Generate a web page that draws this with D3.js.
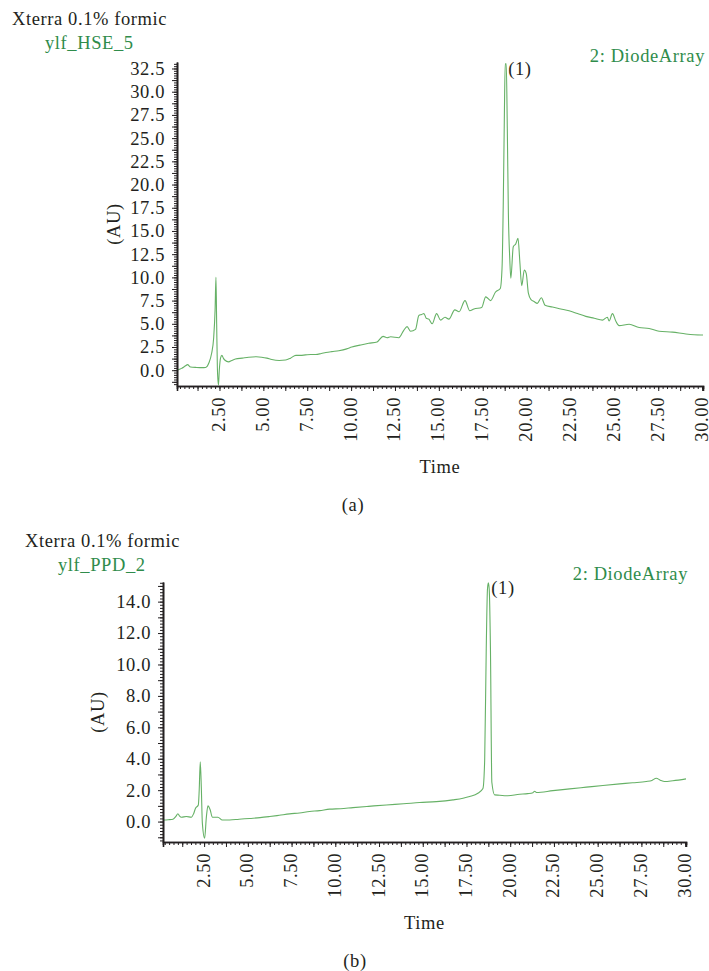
<!DOCTYPE html>
<html>
<head>
<meta charset="utf-8">
<script src="https://cdn.jsdelivr.net/npm/d3@7"></script>
<style>
  html, body { margin: 0; padding: 0; background: #fff; }
  svg { display: block; }
  text { font-family: "Liberation Serif", "DejaVu Serif", serif; letter-spacing: 0.6px; }
</style>
</head>
<body>
<svg id="chart" width="709" height="971"></svg>
<script>
// ---- Panel (a): ylf_HSE_5 chromatogram ----
const timeA = [0.08,0.34,0.55,0.68,0.85,1.20,1.50,1.71,1.90,2.05,2.17,2.25,2.30,2.34,2.38,2.44,2.49,2.56,2.64,2.72,2.80,3.02,3.20,3.41,3.80,4.16,4.60,4.90,5.20,5.48,5.90,6.27,6.55,6.85,7.10,7.40,7.70,7.99,8.30,8.56,8.90,9.30,9.75,10.04,10.50,11.00,11.48,11.82,12.05,12.25,12.72,13.00,13.19,13.39,13.67,13.86,14.01,14.15,14.28,14.43,14.62,14.87,15.10,15.35,15.57,15.91,16.15,16.49,16.76,17.00,17.44,17.67,17.95,18.22,18.50,18.60,18.67,18.73,18.78,18.84,18.90,18.96,19.04,19.10,19.24,19.38,19.51,19.61,19.72,19.87,19.98,20.10,20.25,20.42,20.61,20.84,21.05,21.47,21.95,22.42,22.90,23.37,23.85,24.32,24.60,24.70,24.89,25.08,25.27,25.84,26.41,26.98,27.55,28.31,29.08,29.93,30.05];
const auA = [0.0,0.2,0.45,0.6,0.35,0.3,0.28,0.3,0.8,1.8,3.5,6.5,10.0,5.0,0.3,-1.6,0.0,1.3,1.6,1.3,1.1,0.9,1.05,1.2,1.3,1.4,1.45,1.4,1.3,1.15,1.05,1.1,1.3,1.6,1.6,1.65,1.7,1.7,1.8,1.9,2.0,2.1,2.3,2.5,2.7,2.9,3.05,3.65,3.5,3.6,3.5,4.3,4.7,4.2,4.4,5.9,6.0,6.1,5.6,5.5,5.0,6.1,5.4,5.7,5.5,6.5,6.3,7.5,6.4,6.6,6.75,7.9,7.5,8.4,8.8,11.0,18.0,27.0,33.0,33.0,26.0,17.0,12.0,9.9,13.3,13.6,14.2,11.8,9.1,10.8,10.4,8.3,7.6,7.4,7.2,7.8,7.0,6.8,6.6,6.4,6.1,5.8,5.6,5.4,5.7,5.3,6.1,5.3,4.8,4.95,4.6,4.5,4.2,4.1,3.9,3.8,3.8];

// ---- Panel (b): ylf_PPD_2 chromatogram ----
const timeB = [0.15,0.45,0.72,0.90,1.00,1.10,1.20,1.48,1.77,1.90,2.01,2.17,2.22,2.28,2.34,2.40,2.53,2.63,2.72,2.85,2.97,3.29,3.54,3.96,4.50,5.10,5.70,6.25,6.80,7.39,7.95,8.53,9.10,9.68,10.30,11.01,11.90,12.92,13.90,14.82,15.78,16.73,17.30,17.68,18.15,18.44,18.54,18.63,18.70,18.75,18.80,18.87,18.95,19.11,19.40,19.78,20.54,21.00,21.30,21.40,21.50,22.44,23.40,24.35,25.30,26.26,27.00,27.78,28.10,28.35,28.60,28.83,29.30,30.05];
const auB = [0.1,0.12,0.15,0.35,0.5,0.35,0.28,0.32,0.28,0.5,0.85,1.06,2.0,3.8,2.2,-0.1,-1.06,0.3,1.0,0.74,0.28,0.28,0.1,0.1,0.15,0.2,0.25,0.32,0.4,0.49,0.55,0.64,0.7,0.79,0.82,0.89,0.97,1.06,1.13,1.21,1.27,1.38,1.48,1.59,1.8,2.1,3.9,11.0,14.8,15.2,14.8,11.0,2.5,1.7,1.68,1.64,1.74,1.78,1.84,1.93,1.85,1.97,2.08,2.19,2.3,2.4,2.47,2.55,2.62,2.76,2.62,2.55,2.6,2.72];

// ---- Tick labels ----
const timeTicks = [2.5,5,7.5,10,12.5,15,17.5,20,22.5,25,27.5,30];
const auTicksA = [0,2.5,5,7.5,10,12.5,15,17.5,20,22.5,25,27.5,30,32.5];
const auTicksB = [0,2,4,6,8,10,12,14];

const INK = "#231f20";
const GREEN_TEXT = "#2f8c4b";
const TRACE = "#66b166";
const FS = 18.5;

const svg = d3.select("#chart");

function steps(lo, hi, step) {
  const out = [];
  const start = Math.ceil(lo / step - 1e-9);
  const end = Math.floor(hi / step + 1e-9);
  for (let i = start; i <= end; i++) out.push(+(i * step).toFixed(4));
  return out;
}

function drawPanel(p) {
  const g = svg.append("g");
  const x = d3.scaleLinear().domain(p.xDomain).range(p.xRange);
  const y = d3.scaleLinear().domain(p.yDomain).range(p.yRange);
  const axisY = p.yRange[0];
  const axisX = p.xRange[0];

  // headers
  g.append("text").attr("x", p.titleX).attr("y", p.titleY)
    .attr("font-size", FS).attr("fill", INK).text("Xterra 0.1% formic");
  g.append("text").attr("x", p.sampleX).attr("y", p.titleY + 24)
    .attr("font-size", FS).attr("fill", GREEN_TEXT).text(p.sample);
  g.append("text").attr("x", p.xRange[1] + p.detectorDx).attr("y", p.detectorY)
    .attr("text-anchor", "end").attr("font-size", FS).attr("fill", GREEN_TEXT)
    .text("2: DiodeArray");

  // trace
  const line = d3.line()
    .x((d, i) => x(p.t[i]))
    .y((d, i) => y(p.v[i]))
    .curve(d3.curveMonotoneX);
  g.append("path").datum(p.t).attr("d", line)
    .attr("fill", "none").attr("stroke", TRACE).attr("stroke-width", 1.1);

  // peak label at the tallest point
  const iMax = d3.maxIndex(p.v);
  g.append("text").attr("x", x(p.t[iMax]) + 3).attr("y", y(p.v[iMax]) + 11)
    .attr("font-size", FS).attr("fill", INK).text("(1)");

  // x axis: minor ticks, long ticks, labels
  const xMinor = steps(p.xDomain[0], p.xDomain[1], 0.25);
  const xMajor = steps(p.xDomain[0], p.xDomain[1], 1.25);
  const gx = g.append("g").attr("transform", `translate(0,${axisY})`);
  gx.append("g").call(d3.axisBottom(x).tickValues(xMinor).tickSize(3).tickFormat(""));
  gx.append("g").call(d3.axisBottom(x).tickValues(xMajor).tickSize(5).tickFormat(""));
  const gxl = gx.append("g").call(d3.axisBottom(x).tickValues(timeTicks).tickSize(0).tickFormat(d3.format(".2f")));
  gxl.selectAll("text")
    .attr("transform", "rotate(-90)")
    .attr("text-anchor", "end")
    .attr("x", -11).attr("y", 0).attr("dy", "0.27em")
    .attr("font-size", FS).attr("fill", INK)
    .style("font-family", "Liberation Serif, serif");
  gx.selectAll(".domain").attr("stroke", INK).attr("stroke-width", 1.6);
  gx.selectAll(".tick line").attr("stroke", INK).attr("stroke-width", 1);
  gxl.select(".domain").remove();

  // y axis
  const yMinor = steps(p.yDomain[0], p.yDomain[1], p.yMinorStep);
  const yMajor = steps(p.yDomain[0], p.yDomain[1], p.yMajorStep);
  const gy = g.append("g").attr("transform", `translate(${axisX},0)`);
  gy.append("g").call(d3.axisLeft(y).tickValues(yMinor).tickSize(3).tickSizeOuter(0).tickFormat(""));
  gy.append("g").call(d3.axisLeft(y).tickValues(yMajor).tickSize(5).tickSizeOuter(0).tickFormat(""));
  const gyl = gy.append("g").call(d3.axisLeft(y).tickValues(p.yTicks).tickSize(0).tickPadding(12).tickFormat(d3.format(".1f")));
  gyl.selectAll("text").attr("font-size", FS).attr("fill", INK)
    .style("font-family", "Liberation Serif, serif");
  gy.selectAll(".domain").attr("stroke", INK).attr("stroke-width", 1.6);
  gy.selectAll(".tick line").attr("stroke", INK).attr("stroke-width", 1);
  gyl.select(".domain").remove();

  // axis titles
  const yMid = (p.yRange[0] + p.yRange[1]) / 2;
  g.append("text")
    .attr("transform", `translate(${p.auX},${yMid}) rotate(-90)`)
    .attr("text-anchor", "middle").attr("dy", "0.35em")
    .attr("font-size", FS).attr("fill", INK).text("(AU)");
  const xMid = (p.xRange[0] + p.xRange[1]) / 2;
  g.append("text").attr("x", xMid).attr("y", axisY + 87)
    .attr("text-anchor", "middle").attr("font-size", FS).attr("fill", INK).text("Time");
  g.append("text").attr("x", p.captionX).attr("y", axisY + 125)
    .attr("text-anchor", "middle").attr("font-size", FS).attr("fill", INK).text(p.caption);
}

drawPanel({
  t: timeA, v: auA, sample: "ylf_HSE_5", caption: "(a)",
  xDomain: [0.08, 30.05], xRange: [177, 703],
  yDomain: [-1.7, 33.2], yRange: [386, 62],
  yTicks: auTicksA, yMinorStep: 0.25, yMajorStep: 1.25,
  titleX: 12, titleY: 25, sampleX: 45,
  detectorY: 62, detectorDx: 2,
  auX: 114, captionX: 353
});

drawPanel({
  t: timeB, v: auB, sample: "ylf_PPD_2", caption: "(b)",
  xDomain: [0.15, 30.05], xRange: [163, 686],
  yDomain: [-1.3, 15.25], yRange: [842, 582],
  yTicks: auTicksB, yMinorStep: 0.2, yMajorStep: 1,
  titleX: 25, titleY: 547, sampleX: 58,
  detectorY: 580, detectorDx: 2,
  auX: 98, captionX: 355
});
</script>
</body>
</html>
